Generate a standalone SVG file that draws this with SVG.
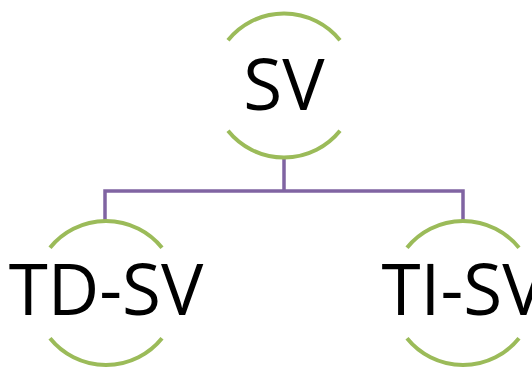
<svg xmlns="http://www.w3.org/2000/svg" width="532" height="369" viewBox="0 0 532 369">
<style>
.arc{fill:none;stroke:#9BBB59;stroke-width:4}
.lbl{font-family:"Open Sans","Noto Sans",sans-serif;font-size:71px;fill:#000;text-anchor:middle}
.conn{fill:none;stroke:#8064A2;stroke-width:3.5}
</style>
<rect width="532" height="369" fill="#fff"/>
<g id="connectors">
<path class="conn" d="M284,157 V191 M105,220 V191 H463 V220"/>
</g>
<g id="node-sv">
<path class="arc" d="M228,40.2 A72,72 0 0 1 340,40.2"/>
<path class="arc" d="M228,130.8 A72,72 0 0 0 340,130.8"/>
<text class="lbl" x="284" y="110">SV</text>
</g>
<g id="node-td-sv">
<path class="arc" d="M50,247.7 A72,72 0 0 1 162,247.7"/>
<path class="arc" d="M50,338.3 A72,72 0 0 0 162,338.3"/>
<text class="lbl" x="106" y="315">TD-SV</text>
</g>
<g id="node-ti-sv">
<path class="arc" d="M407,247.7 A72,72 0 0 1 519,247.7"/>
<path class="arc" d="M407,338.3 A72,72 0 0 0 519,338.3"/>
<text class="lbl" x="463" y="315">TI-SV</text>
</g>
</svg>
